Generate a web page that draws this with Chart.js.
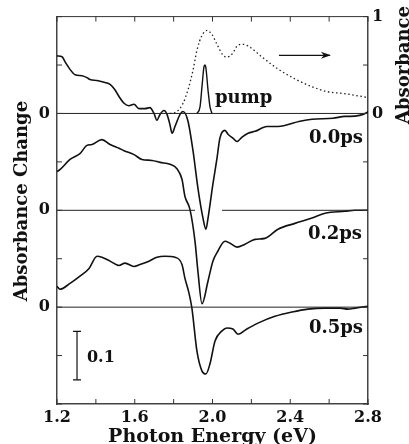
<!DOCTYPE html>
<html>
<head>
<meta charset="utf-8">
<script src="https://cdn.jsdelivr.net/npm/chart.js@4.4.0/dist/chart.umd.min.js"></script>
<style>html,body{margin:0;padding:0;background:#fff}</style>
</head>
<body>
<canvas id="spectra" width="409" height="444"></canvas>
<script>
// photon energy (eV) and absorbance change for each delay
var energy0 = [1.200,1.226,1.241,1.267,1.293,1.329,1.354,1.370,1.406,1.447,1.473,1.498,1.519,1.545,1.570,1.596,1.622,1.653,1.678,1.699,1.714,1.730,1.750,1.766,1.781,1.792,1.807,1.833,1.848,1.874,1.900,1.925,1.951,1.966,1.977,2.002,2.023,2.038,2.064,2.080,2.105,2.126,2.152,2.183,2.219,2.280,2.337,2.450,2.512,2.620,2.681,2.707,2.795,2.800];
var dA0 = [0.119,0.117,0.107,0.091,0.080,0.078,0.074,0.070,0.068,0.064,0.060,0.049,0.035,0.021,0.016,0.019,0.010,0.010,0.012,0.000,-0.014,-0.002,0.006,-0.002,-0.023,-0.041,-0.027,-0.002,0.004,-0.016,-0.078,-0.154,-0.216,-0.239,-0.216,-0.146,-0.093,-0.051,-0.035,-0.043,-0.051,-0.058,-0.049,-0.041,-0.037,-0.027,-0.027,-0.016,-0.012,-0.010,-0.006,-0.006,0.002,0.004];

var energy2 = [1.200,1.215,1.267,1.318,1.354,1.380,1.431,1.473,1.519,1.545,1.596,1.637,1.689,1.730,1.781,1.817,1.843,1.858,1.884,1.910,1.925,1.946,1.977,2.002,2.028,2.064,2.090,2.126,2.167,2.219,2.270,2.337,2.424,2.512,2.579,2.681,2.733,2.800];
var dA2 = [0.080,0.084,0.105,0.117,0.134,0.136,0.146,0.136,0.128,0.123,0.115,0.105,0.103,0.099,0.095,0.086,0.064,0.029,0.002,-0.064,-0.126,-0.193,-0.146,-0.105,-0.084,-0.064,-0.068,-0.076,-0.070,-0.060,-0.058,-0.039,-0.027,-0.016,-0.006,-0.002,0.000,0.000];

var energy5 = [1.200,1.215,1.267,1.318,1.365,1.406,1.431,1.473,1.519,1.550,1.596,1.627,1.673,1.714,1.756,1.807,1.843,1.858,1.879,1.894,1.920,1.946,1.966,1.987,2.013,2.049,2.074,2.105,2.131,2.177,2.234,2.321,2.409,2.491,2.579,2.656,2.697,2.733,2.800];
var dA5 = [0.043,0.037,0.049,0.064,0.080,0.105,0.103,0.095,0.086,0.091,0.084,0.088,0.095,0.103,0.105,0.103,0.088,0.060,0.029,-0.002,-0.091,-0.132,-0.138,-0.117,-0.070,-0.049,-0.043,-0.045,-0.056,-0.045,-0.033,-0.019,-0.010,-0.004,-0.002,-0.002,-0.004,-0.002,0.002];

// ground state absorbance (right axis) and pump spectrum
var energyAbs = [1.781,1.817,1.848,1.874,1.900,1.920,1.946,1.972,1.997,2.023,2.054,2.074,2.100,2.131,2.157,2.193,2.255,2.337,2.424,2.512,2.594,2.681,2.774,2.800];
var absorb = [0.000,0.020,0.102,0.245,0.449,0.653,0.806,0.857,0.816,0.714,0.602,0.582,0.612,0.704,0.714,0.684,0.582,0.459,0.357,0.276,0.224,0.204,0.173,0.163];
var energyPump = [1.920,1.936,1.946,1.956,1.961,1.966,1.977,1.987,1.997];
var pump = [0,0.07,0.28,0.48,0.50,0.47,0.24,0.07,0];

var delays = ['0.0ps', '0.2ps', '0.5ps'];
var offsets = [0, -0.2, -0.4];
var gap2 = [1.91, 2.049];      // break in the 0.2ps zero line
var scaleBar = [-0.45, -0.55]; // 0.1 scale bar

var xTickLabels = [1.2, 1.6, 2.0, 2.4, 2.8];
var leftTickLabels = [0, -0.2, -0.4];
var rightTickLabels = [0, 1];

var FONT = 'DejaVu Serif';
var INK = '#111';

function pts(xs, ys, shift) {
  return xs.map(function (x, i) { return {x: x, y: ys[i] + (shift || 0)}; });
}
function near(list, v) {
  return list.some(function (t) { return Math.abs(t - v) < 1e-6; });
}
function line(data, extra) {
  return Object.assign({
    data: data, borderColor: INK, borderWidth: 1.6, pointRadius: 0,
    fill: false, cubicInterpolationMode: 'monotone', yAxisID: 'y'
  }, extra || {});
}

var zeroStyle = {borderWidth: 1, borderColor: '#222', cubicInterpolationMode: 'default'};

var datasets = [
  line([{x: 1.2, y: offsets[0]}, {x: 2.8, y: offsets[0]}], zeroStyle),
  line([{x: 1.2, y: offsets[1]}, {x: gap2[0], y: offsets[1]}, {x: (gap2[0] + gap2[1]) / 2, y: null},
        {x: gap2[1], y: offsets[1]}, {x: 2.8, y: offsets[1]}], zeroStyle),
  line([{x: 1.2, y: offsets[2]}, {x: 2.8, y: offsets[2]}], zeroStyle),
  line(pts(energy0, dA0, offsets[0])),
  line(pts(energy2, dA2, offsets[1])),
  line(pts(energy5, dA5, offsets[2])),
  line(pts(energyAbs, absorb), {yAxisID: 'y2', borderWidth: 1.3, borderDash: [1.5, 2.6], borderColor: '#222'}),
  line(pts(energyPump, pump), {yAxisID: 'y2', borderWidth: 1.4}),
  line([{x: 1.303, y: scaleBar[0]}, {x: 1.303, y: scaleBar[1]}],
       {borderWidth: 1.2, pointRadius: 4, pointStyle: 'line', pointBorderWidth: 1.2, pointBorderColor: INK})
];

var notes = [
  {text: 'pump', x: 2.013, y: 0.022, align: 'left', size: 18},
  {text: delays[0], x: 2.774, y: -0.060, align: 'right', size: 18},
  {text: delays[1], x: 2.769, y: -0.259, align: 'right', size: 18},
  {text: delays[2], x: 2.774, y: -0.453, align: 'right', size: 18},
  {text: '0.1', x: 1.354, y: -0.514, align: 'left', size: 16}
];

function vTitle(ctx, text, x, y) {
  ctx.save();
  ctx.font = 'bold 18px "' + FONT + '"';
  ctx.fillStyle = INK;
  ctx.textAlign = 'center';
  ctx.textBaseline = 'middle';
  ctx.translate(x, y);
  ctx.rotate(-Math.PI / 2);
  ctx.fillText(text, 0, 0);
  ctx.restore();
}

var decor = {
  id: 'decor',
  afterDraw: function (chart) {
    var ctx = chart.ctx, a = chart.chartArea;
    var sx = chart.scales.x, sy = chart.scales.y, sy2 = chart.scales.y2;
    ctx.save();
    ctx.strokeStyle = '#333';
    ctx.lineWidth = 1;
    ctx.beginPath();
    ctx.moveTo(a.left, a.top); ctx.lineTo(a.right, a.top);
    sx.ticks.forEach(function (t) {
      var px = sx.getPixelForValue(t.value);
      ctx.moveTo(px, a.bottom); ctx.lineTo(px, a.bottom - 5);
      ctx.moveTo(px, a.top); ctx.lineTo(px, a.top + 5);
    });
    sy.ticks.forEach(function (t) {
      var py = sy.getPixelForValue(t.value);
      ctx.moveTo(a.left, py); ctx.lineTo(a.left + 5, py);
    });
    sy2.ticks.forEach(function (t) {
      var py = sy2.getPixelForValue(t.value);
      ctx.moveTo(a.right, py); ctx.lineTo(a.right - 5, py);
    });
    ctx.stroke();

    // arrow pointing to the right axis
    var ay = sy2.getPixelForValue(0.6);
    var x0 = sx.getPixelForValue(2.342), x1 = sx.getPixelForValue(2.604);
    ctx.strokeStyle = INK;
    ctx.lineWidth = 1.3;
    ctx.beginPath();
    ctx.moveTo(x0, ay); ctx.lineTo(x1, ay);
    ctx.stroke();
    ctx.fillStyle = INK;
    ctx.beginPath();
    ctx.moveTo(x1 + 1, ay); ctx.lineTo(x1 - 9, ay - 3.5); ctx.lineTo(x1 - 6, ay); ctx.lineTo(x1 - 9, ay + 3.5);
    ctx.closePath();
    ctx.fill();

    ctx.textBaseline = 'alphabetic';
    notes.forEach(function (n) {
      ctx.font = 'bold ' + n.size + 'px "' + FONT + '"';
      ctx.textAlign = n.align;
      ctx.fillText(n.text, sx.getPixelForValue(n.x), sy.getPixelForValue(n.y));
    });
    ctx.restore();

    // axis titles
    vTitle(ctx, 'Absorbance Change', 22, sy.getPixelForValue(-0.181));
    vTitle(ctx, 'Absorbance', chart.width - 5, sy2.getPixelForValue(0.5));
  }
};

var tickFont = {family: FONT, size: 16, weight: 'bold'};

new Chart(document.getElementById('spectra').getContext('2d'), {
  type: 'line',
  data: {datasets: datasets},
  options: {
    responsive: false,
    animation: false,
    devicePixelRatio: 1,
    layout: {padding: {top: 14, left: 0, right: 0, bottom: 0}},
    plugins: {legend: {display: false}, tooltip: {enabled: false}},
    scales: {
      x: {
        type: 'linear', min: 1.2, max: 2.8,
        grid: {display: false, drawTicks: false},
        border: {display: true, color: '#444', width: 1.5},
        ticks: {
          stepSize: 0.2, autoSkip: false, maxRotation: 0, padding: 4,
          color: INK, font: tickFont,
          callback: function (v) { return near(xTickLabels, v) ? v.toFixed(1) : ''; }
        },
        title: {display: true, text: 'Photon Energy (eV)', color: INK,
                font: {family: FONT, size: 19, weight: 'bold', lineHeight: 1}, padding: {top: 0, bottom: -2.5}},
        afterFit: function (s) { s.height = 40; }
      },
      y: {
        position: 'left', min: -0.6, max: 0.2,
        grid: {display: false, drawTicks: false},
        border: {display: true, color: '#444', width: 1.5},
        ticks: {
          stepSize: 0.1, autoSkip: false, padding: 7, color: INK, font: tickFont,
          callback: function (v) { return near(leftTickLabels, v) ? '0' : ''; }
        },
        afterFit: function (s) { s.width = 57; }
      },
      y2: {
        position: 'right', min: -3, max: 1,
        grid: {display: false, drawTicks: false},
        border: {display: true, color: '#444', width: 1.5},
        ticks: {
          stepSize: 0.5, autoSkip: false, padding: 4, color: INK, font: tickFont,
          callback: function (v) { return near(rightTickLabels, v) ? String(Math.round(v)) : ''; }
        },
        afterFit: function (s) { s.width = 41; }
      }
    }
  },
  plugins: [decor]
});
</script>
</body>
</html>
